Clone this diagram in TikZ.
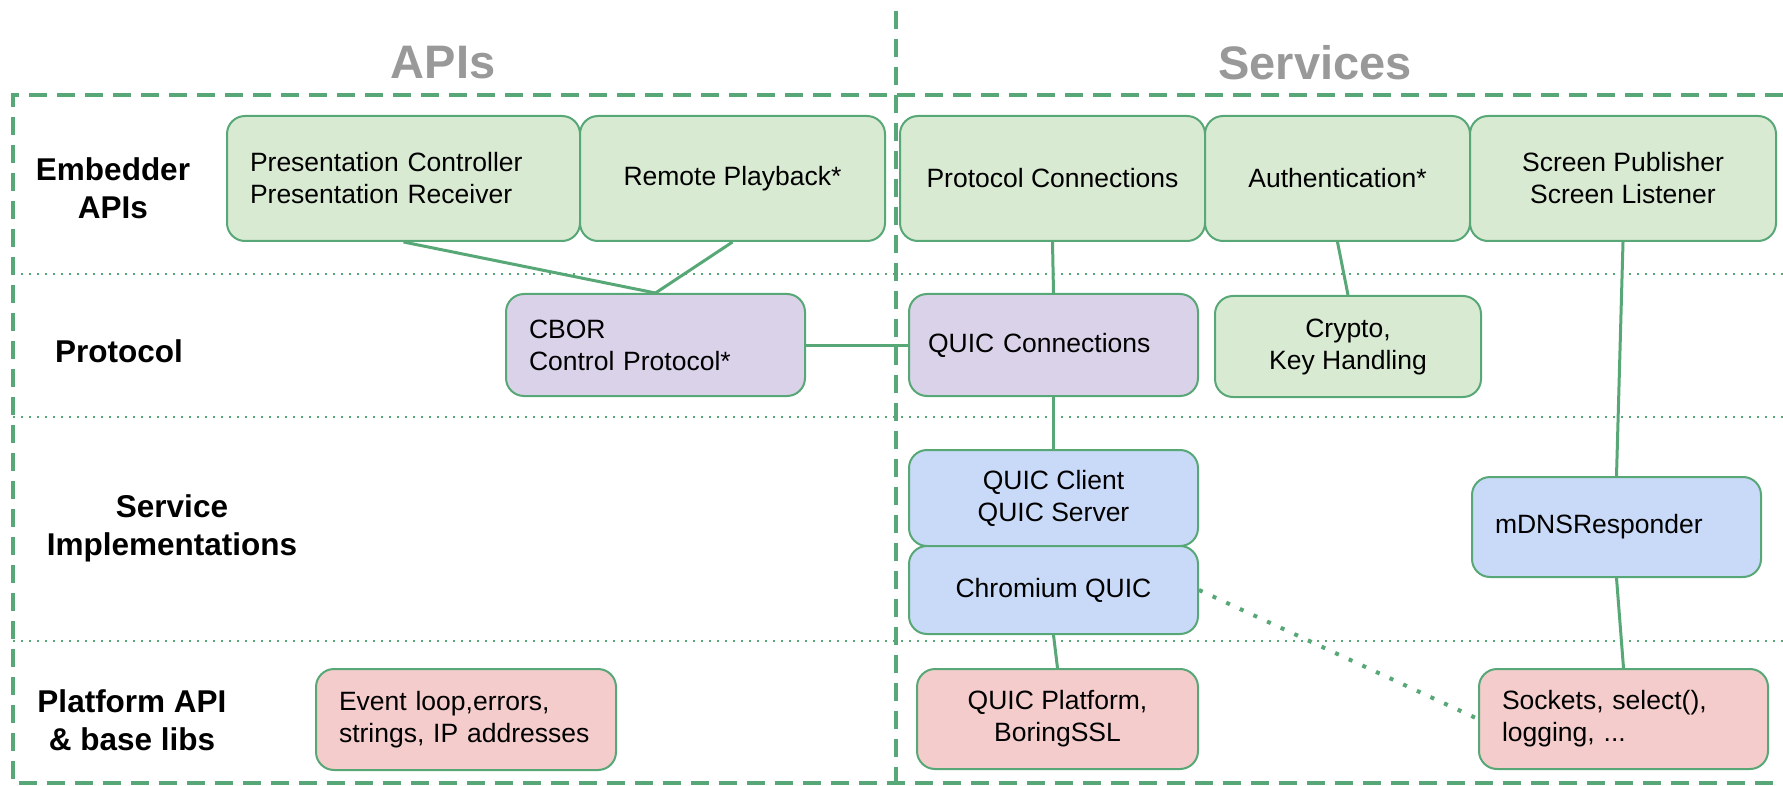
\documentclass[tikz,border=0pt]{standalone}
\usepackage{fontspec}
\setmainfont{Liberation Sans}
\usepackage{xcolor}
\definecolor{line-green}{RGB}{87,168,118}
\definecolor{title-gray}{RGB}{153,153,153}
\definecolor{api-green}{RGB}{217,234,211}
\definecolor{proto-purple}{RGB}{217,210,233}
\definecolor{impl-blue}{RGB}{201,218,248}
\definecolor{base-red}{RGB}{244,204,204}
\usepackage{tikz}
\usetikzlibrary{positioning}

\begin{document}
\begin{tikzpicture}[
    x=0.5pt, y=-0.5pt,
    every node/.style={inner sep=0pt},
    layer/.style={
        draw=line-green, line width=1pt, rounded corners=9pt,
        font=\fontsize{13.25}{16}\selectfont, align=center
    },
    leftlayer/.style={layer, align=left, inner xsep=11.5pt},
    rowlabel/.style={font=\fontsize{15.75}{19}\selectfont\bfseries, align=center},
    coltitle/.style={font=\fontsize{23.5}{28}\selectfont\bfseries, text=title-gray},
    link/.style={draw=line-green, line width=1.5pt},
    fence/.style={draw=line-green, line width=1.8pt, dash pattern=on 9pt off 5pt},
    rowrule/.style={draw=line-green, line width=1pt, dash pattern=on 1pt off 3pt}
]

\useasboundingbox (0,0) rectangle (1783,786);

% Outer frame and column divider
\draw[fence] (1783,95) -- (13,95) -- (13,783) -- (1783,783);
\draw[fence] (896,11) -- (896,786);

% Row separators
\foreach \y in {274,417,641}
    \draw[rowrule] (13,\y) -- (1783,\y);

% Column titles
\node[coltitle] (apititle) at (443,63) {APIs};
\node[coltitle] (servtitle) at (1315,63) {Services};

% Row labels
\node[rowlabel] (embedlabel) at (113,188) {Embedder\\APIs};
\node[rowlabel] (protolabel) at (119,351) {Protocol};
\node[rowlabel] (impllabel) at (172,528) {Service\\Implementations};
\node[rowlabel] (baselabel) at (132,720) {Platform API\\\& base libs};

% Embedder APIs
\node[leftlayer, fill=api-green, text width=153.5pt, minimum height=62.5pt]
    (pres) at (403.5,178.5) {Presentation Controller\\Presentation Receiver};
\node[layer, fill=api-green, minimum width=152.5pt, minimum height=62.5pt]
    (remote) at (732.5,178.5) {Remote Playback*};
\node[layer, fill=api-green, minimum width=152.5pt, minimum height=62.5pt]
    (protoconn) at (1052.5,178.5) {Protocol Connections};
\node[layer, fill=api-green, minimum width=132.5pt, minimum height=62.5pt]
    (auth) at (1337.5,178.5) {Authentication*};
\node[layer, fill=api-green, minimum width=153pt, minimum height=62.5pt]
    (screen) at (1623,178.5) {Screen Publisher\\Screen Listener};

% Protocol
\node[leftlayer, fill=proto-purple, text width=126.5pt, minimum height=51pt]
    (cbor) at (655.5,345) {CBOR\\Control Protocol*};
\node[leftlayer, inner xsep=9.5pt, fill=proto-purple, text width=125.5pt, minimum height=51pt]
    (quicconn) at (1053.5,345) {QUIC Connections};
\node[layer, fill=api-green, minimum width=133pt, minimum height=50.5pt]
    (crypto) at (1348,346.5) {Crypto,\\Key Handling};

% Service implementations
\node[layer, fill=impl-blue, minimum width=144.5pt, minimum height=48pt]
    (quicclient) at (1053.5,498) {QUIC Client\\QUIC Server};
\node[layer, fill=impl-blue, minimum width=144.5pt, minimum height=44pt]
    (chromium) at (1053.5,590) {Chromium QUIC};
\node[leftlayer, fill=impl-blue, text width=121.5pt, minimum height=50pt]
    (mdns) at (1616.5,527) {mDNSResponder};

% Platform API and base libs
\node[leftlayer, fill=base-red, text width=127pt, minimum height=50.5pt]
    (eventloop) at (466,719.5) {Event loop,errors,\\strings, IP addresses};
\node[layer, fill=base-red, minimum width=140.5pt, minimum height=50pt]
    (quicplat) at (1057.5,719) {QUIC Platform,\\BoringSSL};
\node[leftlayer, fill=base-red, text width=121.5pt, minimum height=50pt]
    (sockets) at (1623.5,719) {Sockets, select(),\\logging, ...};

% Connections
\draw[link] (pres.south) -- (cbor.north);
\draw[link] (remote.south) -- (cbor.north);
\draw[link] (cbor.east) -- (quicconn.west);
\draw[link] (protoconn.south) -- (quicconn.north);
\draw[link] (auth.south) -- (crypto.north);
\draw[link] (screen.south) -- (mdns.north);
\draw[link] (quicconn.south) -- (quicclient.north);
\draw[link] (chromium.south) -- (quicplat.north);
\draw[link] (mdns.south) -- (sockets.north);
\draw[link, line width=2pt, dash pattern=on 2pt off 5.5pt] (chromium.east) -- (sockets.west);

\end{tikzpicture}
\end{document}
